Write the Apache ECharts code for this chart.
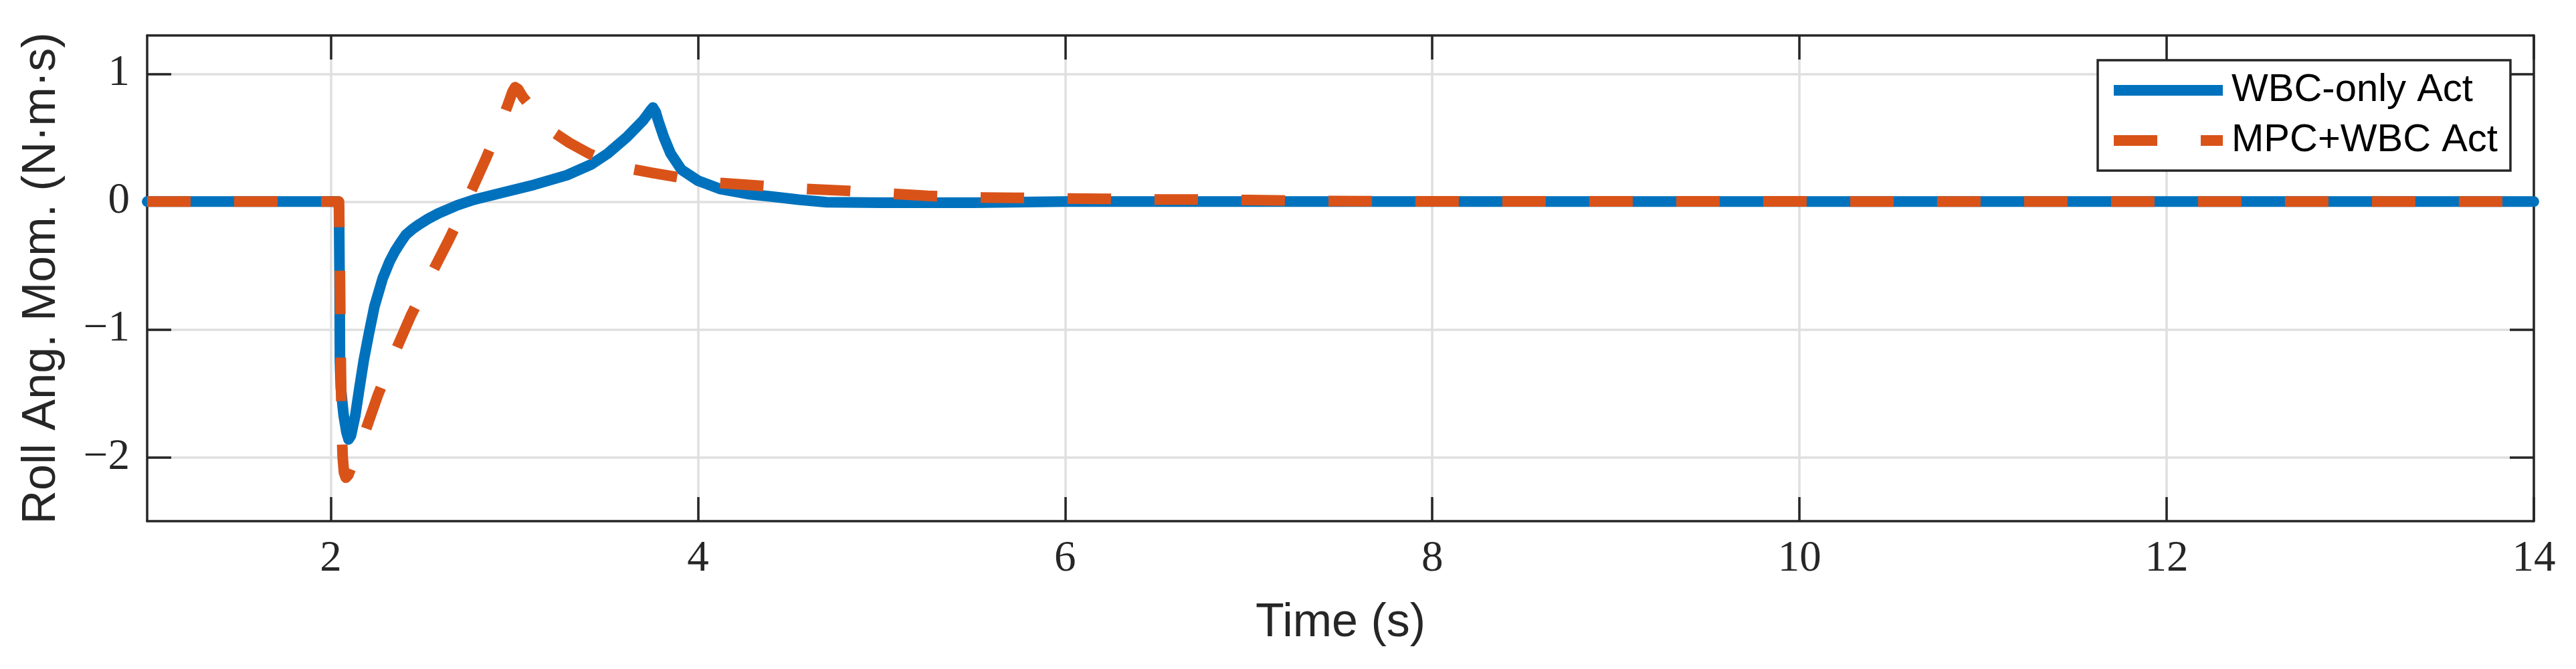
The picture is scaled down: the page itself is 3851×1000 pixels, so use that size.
<!DOCTYPE html>
<html>
<head>
<meta charset="utf-8">
<script src="https://cdn.jsdelivr.net/npm/echarts@6/dist/echarts.min.js"></script>
<style>
  html, body { margin: 0; padding: 0; background: #ffffff; }
  #chart { width: 3851px; height: 1000px; }
</style>
</head>
<body>
<div id="chart"></div>
<script>
// ---- data ----
const seriesNames = ['WBC-only Act', 'MPC+WBC Act'];

const wbcTime = [1, 2.04, 2.045, 2.048, 2.05, 2.055, 2.07, 2.085, 2.097, 2.11, 2.134, 2.156, 2.18, 2.208, 2.238, 2.283, 2.32, 2.349, 2.38, 2.409, 2.445, 2.483, 2.53, 2.587, 2.69, 2.78, 2.96, 3.108, 3.286, 3.42, 3.509, 3.613, 3.70, 3.74, 3.755, 3.77, 3.784, 3.814, 3.851, 3.91, 4.0, 4.119, 4.28, 4.4, 4.55, 4.7, 5.0, 5.5, 6.0, 14];
const wbcValue = [0, 0, -0.05, -0.6, -1.24, -1.46, -1.67, -1.8, -1.86, -1.83, -1.67, -1.46, -1.24, -1.03, -0.82, -0.6, -0.47, -0.39, -0.32, -0.26, -0.215, -0.177, -0.135, -0.092, -0.028, 0.015, 0.079, 0.132, 0.207, 0.292, 0.377, 0.505, 0.633, 0.71, 0.736, 0.7, 0.633, 0.505, 0.377, 0.25, 0.164, 0.10, 0.058, 0.04, 0.015, -0.005, -0.008, -0.008, 0, 0];

const mpcTime = [1, 2.045, 2.05, 2.055, 2.06, 2.065, 2.072, 2.082, 2.095, 2.12, 2.15, 2.18, 2.256, 2.3, 2.343, 2.437, 2.49, 2.541, 2.647, 2.7, 2.746, 2.843, 2.89, 2.932, 2.965, 2.99, 3.004, 3.02, 3.048, 3.13, 3.212, 3.3, 3.405, 3.52, 3.633, 3.75, 3.869, 4.0, 4.104, 4.28, 4.57, 4.81, 5.02, 5.25, 5.5, 5.73, 6.0, 6.22, 6.45, 6.7, 7.0, 7.3, 7.6, 8, 14];
const mpcValue = [0, 0, -0.6, -1.3, -1.8, -2.0, -2.12, -2.16, -2.14, -2.05, -1.93, -1.83, -1.516, -1.36, -1.2, -0.89, -0.74, -0.586, -0.288, -0.13, 0.021, 0.33, 0.49, 0.63, 0.76, 0.86, 0.895, 0.88, 0.815, 0.67, 0.544, 0.46, 0.377, 0.31, 0.256, 0.225, 0.196, 0.165, 0.147, 0.13, 0.1, 0.085, 0.065, 0.045, 0.032, 0.03, 0.024, 0.022, 0.017, 0.016, 0.012, 0.006, 0.003, 0.002, 0];

const xTicks = [2, 4, 6, 8, 10, 12, 14];
const yTicks = [-2, -1, 0, 1];
const xRange = [1, 14];
const yRange = [-2.5, 1.3];
const xTitle = 'Time (s)';
const yTitle = 'Roll Ang. Mom. (N·m·s)';

// ---- build ----
const pairs = (t, v) => t.map((x, i) => [x, v[i]]);
const AX = '#262626';
const GRIDC = '#dfdfdf';
const fmt = v => (v < 0 ? '\u2212' + Math.abs(v) : String(v));

const baseAxis = {
  type: 'value',
  axisLine: { show: true, onZero: false, lineStyle: { color: AX, width: 3.5 } },
  axisTick: { show: true, inside: true, length: 36, lineStyle: { color: AX, width: 3.5 } },
};

const chart = echarts.init(document.getElementById('chart'), null, { renderer: 'canvas' });
chart.setOption({
  animation: false,
  backgroundColor: '#ffffff',
  grid: { left: 220, right: 63, top: 53, bottom: 221, containLabel: false, outerBoundsMode: 'none' },
  legend: {
    data: seriesNames,
    orient: 'vertical',
    left: 3136, top: 90,
    padding: [15, 19, 15, 16],
    itemWidth: 163, itemHeight: 60, itemGap: 15,
    borderColor: AX, borderWidth: 3.5, backgroundColor: '#ffffff',
    itemStyle: { opacity: 0 },
    lineStyle: { width: 16, cap: 'butt' },
    formatter: name => '{t|' + name + '}',
    textStyle: {
      fontFamily: 'Liberation Sans', fontSize: 58, color: '#000000', lineHeight: 60,
      rich: { t: { fontFamily: 'Liberation Sans', fontSize: 58, color: '#000000', lineHeight: 60, padding: [0, 0, 0, 8] } }
    },
    selectedMode: false
  },
  xAxis: [
    Object.assign({}, baseAxis, {
      position: 'bottom', min: xRange[0], max: xRange[1],
      axisTick: Object.assign({}, baseAxis.axisTick, { customValues: xTicks }),
      axisLabel: { customValues: xTicks, fontFamily: 'Liberation Serif', fontSize: 65, color: AX, margin: 24, formatter: fmt },
      splitLine: { show: true, lineStyle: { color: GRIDC, width: 3.5 } },
      name: xTitle, nameLocation: 'middle', nameGap: 118,
      nameTextStyle: { fontFamily: 'Liberation Sans', fontSize: 70, color: AX }
    }),
    Object.assign({}, baseAxis, {
      position: 'top', min: xRange[0], max: xRange[1],
      axisTick: Object.assign({}, baseAxis.axisTick, { customValues: xTicks }),
      axisLabel: { show: false },
      splitLine: { show: false }
    })
  ],
  yAxis: [
    Object.assign({}, baseAxis, {
      position: 'left', min: yRange[0], max: yRange[1],
      axisTick: Object.assign({}, baseAxis.axisTick, { customValues: yTicks }),
      axisLabel: { customValues: yTicks, fontFamily: 'Liberation Serif', fontSize: 65, color: AX, margin: 26, formatter: fmt },
      splitLine: { show: true, lineStyle: { color: GRIDC, width: 3.5 } },
      name: yTitle, nameLocation: 'middle', nameGap: 122,
      nameTextStyle: { fontFamily: 'Liberation Sans', fontSize: 70, color: AX }
    }),
    Object.assign({}, baseAxis, {
      position: 'right', min: yRange[0], max: yRange[1],
      axisTick: Object.assign({}, baseAxis.axisTick, { customValues: yTicks }),
      axisLabel: { show: false },
      splitLine: { show: false }
    })
  ],
  series: [
    {
      name: seriesNames[0], type: 'line', xAxisIndex: 0, yAxisIndex: 0,
      data: pairs(wbcTime, wbcValue),
      symbol: 'none', showSymbol: false, smooth: false, sampling: null,
      lineStyle: { color: '#0072BD', width: 16, type: 'solid', cap: 'round', join: 'round' },
      itemStyle: { color: '#0072BD' },
      z: 2
    },
    {
      name: seriesNames[1], type: 'line', xAxisIndex: 0, yAxisIndex: 0,
      data: pairs(mpcTime, mpcValue),
      symbol: 'none', showSymbol: false, smooth: false, sampling: null,
      lineStyle: { color: '#D95319', width: 16, type: [65, 65], cap: 'butt', join: 'round' },
      itemStyle: { color: '#D95319' },
      z: 3
    }
  ]
});
</script>
</body>
</html>
